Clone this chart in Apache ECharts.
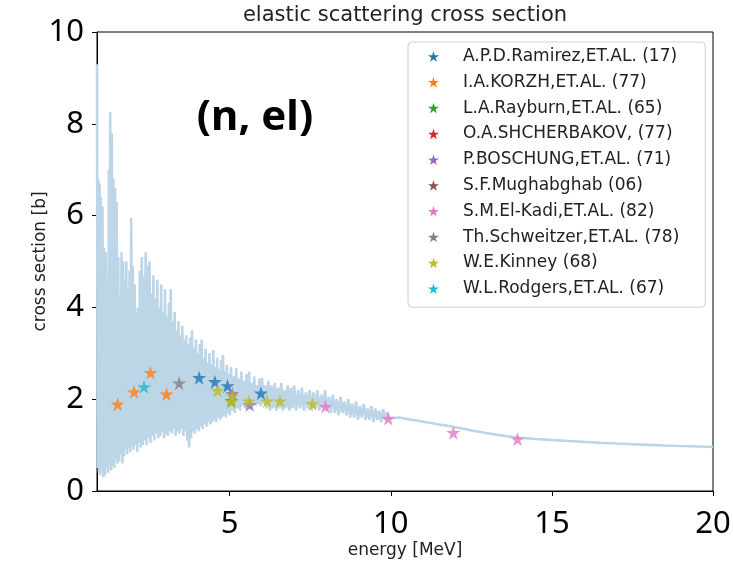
<!DOCTYPE html>
<html>
<head>
<meta charset="utf-8">
<script src="https://cdn.jsdelivr.net/npm/echarts@6/dist/echarts.min.js"></script>
<style>html,body{margin:0;padding:0;background:#fff}#chart{width:733px;height:562px}</style>
</head>
<body>
<div id="chart"></div>
<script>
// Evaluated elastic cross section [energy MeV, sigma b]
const elasticCurve = [
[0.88,9.3],[0.90,0.5],[0.92,6.8],[0.94,0.4],[0.96,6.7],[0.98,0.35],[1.00,6.4],[1.03,0.45],[1.05,6.2],[1.08,0.3],
[1.10,5.3],[1.13,0.35],[1.15,5.2],[1.18,0.5],[1.20,4.6],[1.23,0.4],[1.25,7.0],[1.27,0.6],[1.29,8.25],[1.32,0.45],
[1.34,7.8],[1.37,0.55],[1.39,6.8],[1.42,0.5],[1.44,6.6],[1.47,0.7],[1.49,6.3],[1.52,0.6],[1.54,5.1],[1.57,0.65],
[1.59,4.2],[1.62,0.8],[1.64,5.2],[1.67,0.6],[1.69,5.0],[1.72,0.75],[1.74,4.6],[1.77,0.9],[1.79,5.0],[1.82,0.8],
[1.84,4.4],[1.87,0.95],[1.89,4.8],[1.92,0.85],[1.94,5.95],[1.97,1.0],[1.99,4.9],
[2.02,0.9],[2.05,4.5],[2.08,1.0],[2.10,3.9],[2.13,0.85],[2.15,4.0],[2.18,1.05],[2.21,4.8],[2.24,0.95],[2.27,5.1],
[2.30,1.0],[2.33,4.7],[2.36,1.1],[2.39,5.2],[2.42,1.0],[2.45,4.9],[2.48,1.15],[2.51,5.0],[2.54,1.05],[2.57,4.3],
[2.60,1.2],[2.63,4.7],[2.66,1.1],[2.69,4.2],[2.72,1.25],[2.75,4.6],[2.78,1.15],[2.81,4.0],[2.84,1.2],[2.87,4.5],
[2.90,1.3],[2.93,3.9],[2.96,1.15],[2.99,4.4],[3.02,1.25],[3.05,3.8],[3.08,1.2],[3.11,4.1],[3.14,1.3],[3.17,4.4],
[3.20,1.25],[3.23,3.7],[3.26,1.35],[3.29,3.9],[3.32,1.2],[3.35,3.5],[3.38,1.3],[3.41,3.7],[3.44,1.25],[3.47,3.4],
[3.50,1.35],[3.53,3.6],[3.56,1.2],[3.59,3.3],[3.62,1.3],[3.65,3.4],[3.68,1.1],[3.71,3.2],[3.74,0.95],[3.77,3.35],
[3.80,1.15],[3.83,3.5],[3.86,1.3],[3.89,3.1],[3.92,1.25],[3.95,3.3],[3.98,1.35],[4.01,3.0],[4.04,1.3],[4.07,3.2],
[4.10,1.4],[4.13,3.3],[4.16,1.35],[4.19,2.9],[4.22,1.45],[4.25,3.1],[4.28,1.4],[4.31,2.8],[4.34,1.5],[4.37,3.0],
[4.40,1.45],[4.43,2.75],[4.46,1.5],[4.49,3.07],[4.52,1.55],[4.55,2.7],[4.58,1.5],[4.61,2.9],[4.64,1.6],[4.67,2.65],
[4.70,1.55],[4.73,2.85],[4.76,1.6],[4.79,2.96],[4.82,1.65],[4.85,2.6],[4.88,1.6],[4.91,2.75],[4.94,1.7],[4.97,2.55],
[5.00,1.65],[5.04,2.7],[5.08,1.75],[5.12,2.5],[5.16,1.7],[5.20,2.68],[5.24,1.8],[5.28,2.45],[5.32,1.75],[5.36,2.6],
[5.40,1.85],[5.44,2.4],[5.48,1.8],[5.52,2.55],[5.56,1.85],[5.60,2.6],[5.64,1.8],[5.68,2.35],[5.72,1.9],[5.76,2.5],
[5.80,1.85],[5.84,2.3],[5.88,1.9],[5.92,2.45],[5.96,1.85],[6.00,2.46],[6.05,1.9],[6.10,2.3],[6.15,1.8],[6.20,2.4],
[6.25,1.75],[6.30,2.3],[6.35,1.8],[6.40,2.35],[6.45,1.75],[6.50,2.25],[6.55,1.8],[6.60,2.35],[6.65,1.75],[6.70,2.2],
[6.75,1.8],[6.80,2.3],[6.85,1.75],[6.90,2.25],[6.95,1.8],[7.00,2.3],[7.06,1.75],[7.12,2.2],[7.18,1.8],[7.24,2.25],
[7.30,1.75],[7.36,2.15],[7.42,1.8],[7.48,2.2],[7.54,1.75],[7.60,2.15],[7.66,1.8],[7.72,2.2],[7.78,1.75],[7.84,2.1],
[7.90,1.8],[7.96,2.2],[8.02,1.75],[8.08,2.05],[8.14,1.7],[8.20,2.1],[8.26,1.7],[8.32,2.0],[8.38,1.65],[8.44,2.05],
[8.50,1.7],[8.56,1.95],[8.62,1.65],[8.68,2.0],[8.74,1.6],[8.80,1.9],[8.86,1.6],[8.92,1.95],[8.98,1.55],[9.04,1.85],
[9.10,1.6],[9.16,1.9],[9.22,1.55],[9.28,1.8],[9.34,1.55],[9.40,1.85],[9.46,1.5],[9.52,1.8],[9.58,1.55],[9.64,1.75],
[9.70,1.5],[9.76,1.78],[9.82,1.55],[9.88,1.72],[9.94,1.58],[10.0,1.62],
[10.25,1.6],[10.5,1.57],[10.75,1.54],[11.0,1.51],[11.25,1.48],[11.5,1.45],[11.75,1.42],[12.0,1.39],[12.25,1.355],
[12.5,1.32],[12.75,1.29],[13.0,1.26],[13.25,1.23],[13.5,1.205],[13.75,1.18],[14.0,1.16],[14.25,1.147],[14.5,1.134],
[14.75,1.122],[15.0,1.11],[15.5,1.089],[16.0,1.07],[16.5,1.052],[17.0,1.035],[17.5,1.02],[18.0,1.005],[18.5,0.992],
[19.0,0.98],[19.5,0.97],[20.0,0.96]
];

// Experimental points [energy MeV, sigma b]
const ramirez     = [[4.05,2.47],[4.54,2.38],[4.93,2.29],[5.97,2.13]];
const korzh       = [[1.52,1.89],[2.03,2.16],[2.54,2.58],[3.04,2.11]];
const rayburn     = [[5.05,1.97]];
const shcherbakov = [];
const boschung    = [[5.08,2.12],[5.62,1.88]];
const mughabghab  = [];
const elKadi      = [[7.97,1.84],[9.92,1.58],[11.94,1.27],[13.93,1.13]];
const schweitzer  = [[3.43,2.35]];
const kinney      = [[4.62,2.19],[5.05,1.95],[5.08,2.07],[5.59,1.96],[6.16,1.96],[6.56,1.96],[7.57,1.9]];
const rodgers     = [[2.34,2.27]];

const seriesNames = ['A.P.D.Ramirez,ET.AL. (17)','I.A.KORZH,ET.AL. (77)','L.A.Rayburn,ET.AL. (65)',
  'O.A.SHCHERBAKOV, (77)','P.BOSCHUNG,ET.AL. (71)','S.F.Mughabghab (06)','S.M.El-Kadi,ET.AL. (82)',
  'Th.Schweitzer,ET.AL. (78)','W.E.Kinney (68)','W.L.Rodgers,ET.AL. (67)'];
const seriesData = [ramirez, korzh, rayburn, shcherbakov, boschung, mughabghab, elKadi, schweitzer, kinney, rodgers];
const seriesColors = ['#1f77b4','#ff7f0e','#2ca02c','#d62728','#9467bd','#8c564b','#e377c2','#7f7f7f','#bcbd22','#17becf'];

const xTicks = [5, 10, 15, 20];
const yTicks = [0, 2, 4, 6, 8, 10];

const STAR = 'path://M0,-1L0.2245,-0.309L0.951,-0.309L0.363,0.118L0.588,0.809L0,0.382L-0.588,0.809L-0.363,0.118L-0.951,-0.309L-0.2245,-0.309Z';

const chart = echarts.init(document.getElementById('chart'), null, {renderer: 'canvas'});
const series = [{
  name: 'curve', type: 'line', data: elasticCurve, showSymbol: false, symbol: 'none',
  lineStyle: {color: '#bcd6e8', width: 2.6}, z: 1, silent: true
}];
seriesNames.forEach((n, i) => {
  series.push({
    name: n, type: 'scatter', data: seriesData[i], symbol: STAR, symbolSize: 14,
    itemStyle: {color: seriesColors[i], opacity: 0.8}, z: 3
  });
});

chart.setOption({
  animation: false,
  backgroundColor: '#fff',
  title: [
    {text: 'elastic scattering cross section', left: 405, top: 5, textAlign: 'center', padding: 0,
     textStyle: {fontFamily: 'DejaVu Sans', fontSize: 21, fontWeight: 'normal', color: '#222'}},
    {text: '(n, el)', left: 255, top: 97, textAlign: 'center', padding: 0,
     textStyle: {fontFamily: 'Noto Sans', fontSize: 42, fontWeight: 'bold', color: '#000'}}
  ],
  legend: {
    data: seriesNames.map(n => ({name: n, icon: STAR})),
    orient: 'vertical', left: 408, top: 42,
    itemWidth: 11, itemHeight: 11, itemGap: 8.8,
    padding: [6, 26, 10, 20],
    backgroundColor: '#fff', borderColor: '#d0d0d0', borderWidth: 1, borderRadius: 4,
    itemStyle: {opacity: 1},
    textStyle: {fontFamily: 'DejaVu Sans', fontSize: 17, color: '#222', lineHeight: 17, padding: [0, 0, 0, 19]}
  },
  grid: {left: 97, right: 20, top: 32, bottom: 71, show: true, borderColor: '#000', borderWidth: 1,
         containLabel: false, outerBoundsMode: 'none'},
  xAxis: {
    type: 'value', min: 0.88, max: 20,
    name: 'energy [MeV]', nameLocation: 'middle', nameGap: 51, nameMoveOverlap: false,
    nameTextStyle: {fontFamily: 'DejaVu Sans', fontSize: 17, color: '#222'},
    axisLine: {show: true, lineStyle: {color: '#000', width: 1}},
    axisTick: {show: true, inside: false, length: 5, customValues: xTicks, lineStyle: {color: '#000'}},
    axisLabel: {customValues: xTicks, margin: 18, fontFamily: 'Noto Sans', fontSize: 31, color: '#000'},
    splitLine: {show: false}
  },
  yAxis: {
    type: 'value', min: 0, max: 10, interval: 2,
    name: 'cross section [b]', nameLocation: 'middle', nameGap: 48, nameRotate: 90, nameMoveOverlap: false,
    nameTextStyle: {fontFamily: 'DejaVu Sans', fontSize: 17, color: '#222'},
    axisLine: {show: true, lineStyle: {color: '#000', width: 1}},
    axisTick: {show: true, inside: false, length: 5, lineStyle: {color: '#000'}},
    axisLabel: {margin: 13, fontFamily: 'Noto Sans', fontSize: 31, color: '#000', customValues: yTicks},
    splitLine: {show: false}
  },
  series: series
});
</script>
</body>
</html>
